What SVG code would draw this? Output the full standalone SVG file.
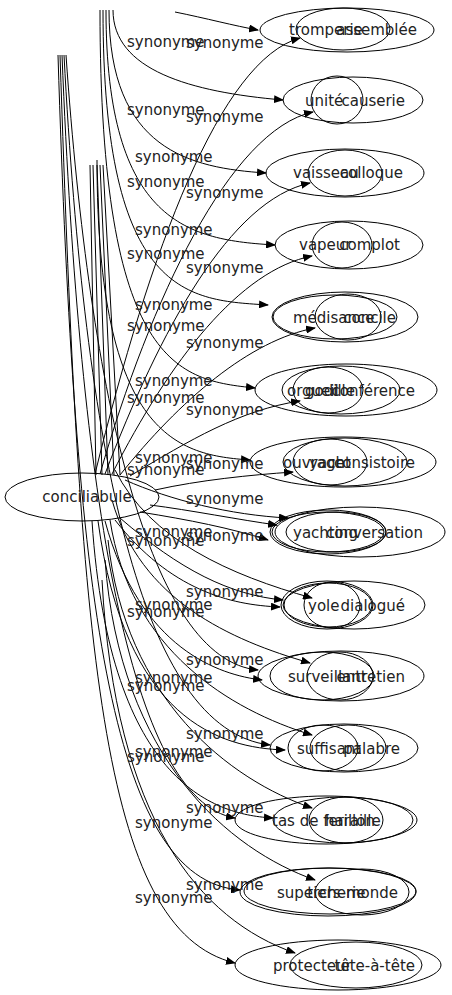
<svg xmlns="http://www.w3.org/2000/svg" width="452" height="995" viewBox="0 0 452 995">
<defs>
<marker id="arr" markerWidth="10" markerHeight="8" refX="9" refY="4" orient="auto" markerUnits="userSpaceOnUse">
<path d="M0,0 L10,4 L0,8 Z" fill="#000"/>
</marker>
<style>
ellipse{fill:none;stroke:#000;stroke-width:1}
text{font-family:"DejaVu Sans","Liberation Sans",sans-serif;font-size:15px;fill:#222}
.e path{fill:none;stroke:#000;stroke-width:1;marker-end:url(#arr)}
.e path.l{marker-end:none}
.m{text-anchor:middle}
.r{text-anchor:end}
</style>
</defs>
<rect width="452" height="995" fill="#fff"/>
<g class="e" id="edges">
<path d="M175,12 C205,18 235,26 258,30"/>
<path d="M113,10 C113,70 190,92 283,100"/>
<path d="M109,10 C109,150 190,168 266,173"/>
<path d="M106,10 C106,225 190,240 275,245"/>
<path d="M103,10 C103,300 190,300 268,305"/>
<path d="M100,10 C100,370 180,380 255,388"/>
<path d="M97,160 C97,440 180,455 250,460"/>
<path d="M95,474 C150,250 220,60 300,38"/>
<path d="M100,474 C150,300 230,130 313,112"/>
<path d="M105,474 C160,330 230,200 310,183"/>
<path d="M112,474 C170,360 240,270 312,256"/>
<path d="M120,475 C180,400 250,340 315,328"/>
<path d="M130,476 C190,440 240,410 300,401"/>
<path d="M155,490 C200,480 250,475 293,472"/>
<path d="M150,505 C190,510 240,520 277,525"/>
<path d="M140,512 C190,520 230,528 268,540"/>
<path d="M120,518 C180,570 230,595 283,600"/>
<path d="M115,520 C170,590 230,605 280,607"/>
<path d="M66,55 C90,400 150,660 258,670"/>
<path d="M105,521 C140,650 220,675 262,680"/>
<path d="M64,55 C85,450 140,730 270,745"/>
<path d="M98,521 C125,720 220,748 285,750"/>
<path d="M62,55 C80,500 130,800 235,818"/>
<path d="M92,521 C110,790 220,815 273,818"/>
<path d="M58,55 C75,600 110,880 240,890"/>
<path d="M60,55 C80,650 100,930 235,963"/>
<path d="M125,480 C170,500 230,515 288,518"/>
<path d="M115,470 C150,540 230,575 312,598"/>
<path d="M112,500 C140,600 230,640 310,663"/>
<path d="M110,520 C130,650 230,710 312,735"/>
<path d="M108,540 C125,700 230,780 312,808"/>
<path d="M105,560 C120,760 230,850 315,880"/>
<path d="M102,580 C115,820 200,920 295,953"/>
<path class="l" d="M90,165 L96,475"/>
<path class="l" d="M93,165 L102,475"/>
<path class="l" d="M97,165 L108,475"/>
<path class="l" d="M100,165 L114,475"/>
<path class="l" d="M103,165 L120,475"/>
</g>
<g id="edge-labels">
<text x="127" y="47">synonyme</text><text x="186" y="48">synonyme</text>
<text x="127" y="115">synonyme</text><text x="186" y="122">synonyme</text>
<text x="135" y="162">synonyme</text><text x="127" y="187">synonyme</text><text x="186" y="198">synonyme</text>
<text x="135" y="235">synonyme</text><text x="127" y="259">synonyme</text><text x="186" y="273">synonyme</text>
<text x="135" y="310">synonyme</text><text x="127" y="331">synonyme</text><text x="186" y="348">synonyme</text>
<text x="135" y="386">synonyme</text><text x="127" y="403">synonyme</text><text x="186" y="415">synonyme</text>
<text x="135" y="463">synonyme</text><text x="127" y="475">synonyme</text><text x="186" y="469">synonyme</text>
<text x="186" y="504">synonyme</text>
<text x="135" y="537">synonyme</text><text x="127" y="546">synonyme</text><text x="186" y="541">synonyme</text>
<text x="186" y="597">synonyme</text><text x="135" y="610">synonyme</text><text x="127" y="617">synonyme</text>
<text x="186" y="665">synonyme</text><text x="135" y="683">synonyme</text><text x="127" y="691">synonyme</text>
<text x="186" y="739">synonyme</text><text x="135" y="757">synonyme</text><text x="127" y="762">synonyme</text>
<text x="186" y="813">synonyme</text><text x="135" y="828">synonyme</text>
<text x="186" y="890">synonyme</text><text x="135" y="903">synonyme</text>
</g>
<g id="conciliabule"><ellipse cx="82" cy="497" rx="77" ry="24"/><text class="m" x="87" y="502">conciliabule</text></g>
<g id="row1"><ellipse cx="347" cy="30" rx="87" ry="22"/><ellipse cx="343" cy="29" rx="47" ry="21"/><text x="289" y="35">tromperie</text><text class="r" x="417" y="35">assemblée</text></g>
<g id="row2"><ellipse cx="353" cy="100" rx="70" ry="23"/><ellipse cx="337" cy="100" rx="26" ry="24"/><text x="305" y="106">unité</text><text class="r" x="405" y="106">causerie</text></g>
<g id="row3"><ellipse cx="345" cy="173" rx="79" ry="24"/><ellipse cx="345" cy="173" rx="37" ry="23"/><text x="293" y="178">vaisseau</text><text class="r" x="403" y="178">colloque</text></g>
<g id="row4"><ellipse cx="349" cy="245" rx="74" ry="24"/><ellipse cx="342" cy="245" rx="30" ry="23"/><text x="299" y="250">vapeur</text><text class="r" x="400" y="250">complot</text></g>
<g id="row5"><ellipse cx="345" cy="317" rx="73" ry="25"/><ellipse cx="335" cy="317" rx="62" ry="22"/><ellipse cx="348" cy="317" rx="33" ry="23"/><text x="293" y="323">médisance</text><text class="r" x="396" y="323">concile</text></g>
<g id="row6"><ellipse cx="346" cy="390" rx="91" ry="26"/><ellipse cx="341" cy="390" rx="59" ry="24"/><ellipse cx="328" cy="390" rx="35" ry="23"/><text x="287" y="396">orgueil</text><text class="m" x="330" y="396">godille</text><text class="r" x="415" y="396">conférence</text></g>
<g id="row7"><ellipse cx="343" cy="462" rx="93" ry="25"/><ellipse cx="345" cy="462" rx="62" ry="24"/><ellipse cx="330" cy="462" rx="37" ry="23"/><text x="283" y="468">ouvrage</text><text class="m" x="330" y="468">yacht</text><text class="r" x="415" y="468">consistoire</text></g>
<g id="row8"><ellipse cx="360" cy="532" rx="85" ry="25"/><ellipse cx="328" cy="532" rx="58" ry="22"/><ellipse cx="328" cy="532" rx="56" ry="20"/><ellipse cx="336" cy="532" rx="50" ry="20"/><text x="293" y="538">yachting</text><text class="r" x="423" y="538">conversation</text></g>
<g id="row9"><ellipse cx="354" cy="605" rx="71" ry="24"/><ellipse cx="327" cy="605" rx="46" ry="24"/><ellipse cx="328" cy="605" rx="44" ry="22"/><ellipse cx="332" cy="605" rx="28" ry="23"/><text x="308" y="611">yole</text><text class="r" x="405" y="611">dialogué</text></g>
<g id="row10"><ellipse cx="341" cy="676" rx="83" ry="25"/><ellipse cx="322" cy="676" rx="52" ry="24"/><ellipse cx="340" cy="676" rx="33" ry="24"/><text x="288" y="682">surveillant</text><text class="r" x="405" y="682">entretien</text></g>
<g id="row11"><ellipse cx="344" cy="748" rx="74" ry="24"/><ellipse cx="323" cy="748" rx="35" ry="23"/><ellipse cx="348" cy="748" rx="38" ry="23"/><text x="297" y="754">suffisant</text><text class="r" x="400" y="754">palabre</text></g>
<g id="row12"><ellipse cx="326" cy="820" rx="91" ry="24"/><ellipse cx="343" cy="820" rx="70" ry="23"/><ellipse cx="346" cy="820" rx="37" ry="23"/><text x="272" y="826">tas de ferraille</text><text class="m" x="350" y="826">haillon</text></g>
<g id="row13"><ellipse cx="328" cy="892" rx="88" ry="24"/><ellipse cx="330" cy="891" rx="86" ry="23"/><ellipse cx="362" cy="892" rx="47" ry="23"/><text x="277" y="898">supercherie</text><text class="r" x="398" y="898">tiers-monde</text></g>
<g id="row14"><ellipse cx="338" cy="965" rx="103" ry="25"/><ellipse cx="356" cy="965" rx="66" ry="23"/><text x="273" y="971">protecteur</text><text class="r" x="415" y="971">tête-à-tête</text></g>
</svg>
